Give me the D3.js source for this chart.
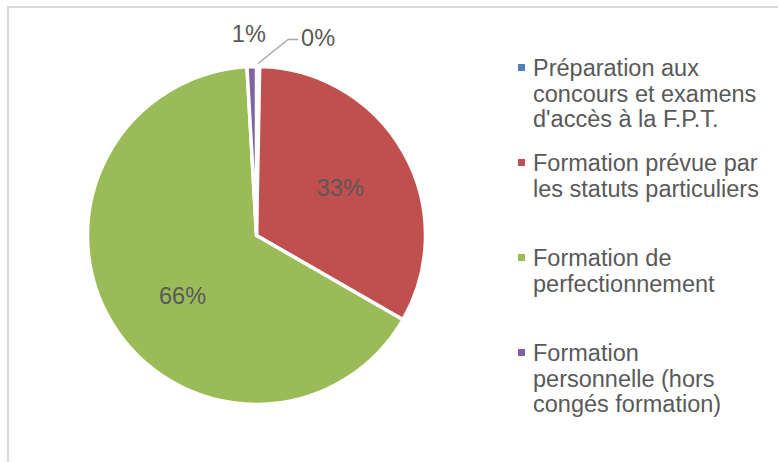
<!DOCTYPE html>
<html><head><meta charset="utf-8">
<script src="https://cdn.jsdelivr.net/npm/d3@7"></script>
<style>html,body{margin:0;padding:0;background:#fff;}svg{display:block;font-family:"Liberation Sans",Arial,sans-serif;}</style>
</head><body>
<svg id="c" width="778" height="462"></svg>
<script>
const categories = [
  ["Préparation aux","concours et examens","d'accès à la F.P.T."],
  ["Formation prévue par","les statuts particuliers"],
  ["Formation de","perfectionnement"],
  ["Formation","personnelle (hors","congés formation)"]
];
const values = [0.3, 33.0, 65.8, 0.9];
const labels = ["0%", "33%", "66%", "1%"];
const colors = ["#4f81bd", "#c0504d", "#9bbb59", "#8064a2"];

const svg = d3.select("#c");
const fs = 23.5;
// chart border
svg.append("path").attr("d","M8,462 L8,7 L778,7").attr("fill","none").attr("stroke","#d9d9d9").attr("stroke-width",2);

const cx = 256.5, cy = 235.5, R = 169;
const pie = d3.pie().sort(null).value(d=>d)(values);
const arc = d3.arc().innerRadius(0).outerRadius(R);
const g = svg.append("g").attr("transform",`translate(${cx},${cy})`);
g.selectAll("path").data(pie).join("path")
  .attr("d",arc).attr("fill",(d,i)=>colors[i])
  .attr("stroke","#fff").attr("stroke-width",3.5).attr("stroke-linejoin","round");

const txt = "#595959";
const inner = d3.arc().innerRadius(R*0.57).outerRadius(R*0.57);
// inside labels for big slices
[[1,0,0],[2,8,10]].forEach(([i,dx,dy])=>{
  const c = inner.centroid(pie[i]);
  g.append("text").attr("x",c[0]+dx).attr("y",c[1]+dy).attr("text-anchor","middle").attr("dominant-baseline","central")
   .attr("font-size",fs).attr("fill",txt).text(labels[i]);
});
// 1% label (purple)
{
  const c = d3.arc().innerRadius(R+33).outerRadius(R+33).centroid(pie[3]);
  g.append("text").attr("x",c[0]-2).attr("y",c[1]).attr("text-anchor","middle").attr("dominant-baseline","central")
   .attr("font-size",fs).attr("fill",txt).text(labels[3]);
}
// 0% label with leader line
{
  const p0 = d3.arc().innerRadius(R+3).outerRadius(R+3).centroid(pie[0]);
  const p1 = [p0[0]+30, p0[1]-24];
  const p2 = [p1[0]+10, p1[1]];
  g.append("polyline").attr("points",[p0,p1,p2].map(p=>p.join(",")).join(" "))
   .attr("fill","none").attr("stroke","#a6a6a6").attr("stroke-width",1.3);
  g.append("text").attr("x",p2[0]+3).attr("y",p2[1]-2).attr("dominant-baseline","central")
   .attr("font-size",fs).attr("fill",txt).text(labels[0]);
}

// legend
const lg = svg.append("g");
const lineH = 25.5;
categories.forEach((lines,i)=>{
  const y0 = 76 + i*95;
  lg.append("rect").attr("x",518).attr("y",y0-12).attr("width",7).attr("height",7).attr("fill",colors[i]);
  lines.forEach((t,j)=>{
    lg.append("text").attr("x",533).attr("y",y0+j*lineH)
      .attr("font-size",fs).attr("fill",txt).text(t);
  });
});
</script>
</body></html>
